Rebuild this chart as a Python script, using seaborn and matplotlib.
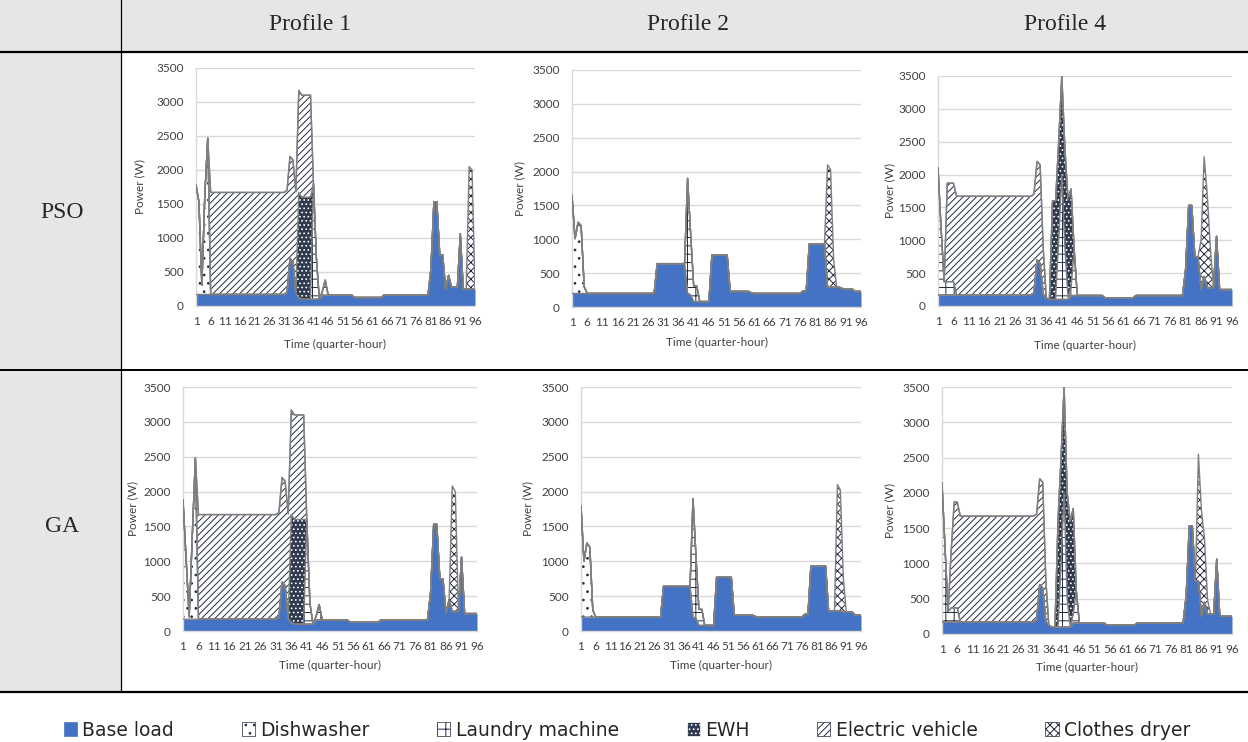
import numpy as np
import matplotlib
matplotlib.use("Agg")
import matplotlib.pyplot as plt
from matplotlib.patches import Patch, Rectangle
import seaborn as sns

# quarter-hours of the day
T = np.arange(1, 97)
x_ticks = list(range(1, 97, 5))
y_ticks = list(range(0, 3501, 500))

# base load per profile (W)
base_p1 = ([170] * 31 + [200, 700, 650, 180, 120] + [100] * 7 + [160] * 11
           + [125] * 10 + [160] * 16
           + [550, 1530, 1530, 750, 750, 250, 450, 280, 280, 280, 1060] + [250] * 5)
base_p2 = ([200] * 28 + [640] * 10 + [200, 180] + [80] * 6 + [770] * 6 + [230] * 7
           + [210] + [200] * 16 + [240] * 2 + [930] * 6 + [290] * 5 + [270] * 4 + [230] * 3)
base_p4 = base_p1

# shiftable loads: (first quarter-hour, values)
pso_p1 = {
    "Dishwasher": [(1, [1610, 1360, 135, 1460, 2300])],
    "Laundry machine": [(41, [1700, 600, 0, 50, 220])],
    "EWH": [(36, [1550, 1500, 1500, 1500, 1500])],
    "Electric vehicle": [(6, [1500] * 35)],
    "Clothes dryer": [(94, [1800, 1750])],
}
pso_p2 = {
    "Dishwasher": [(1, [1450, 810, 1050, 1000, 100])],
    "Laundry machine": [(39, [1700, 900, 230, 230])],
    "Clothes dryer": [(85, [1810, 1740, 420])],
}
pso_p4 = {
    "Laundry machine": [(1, [1930, 1010, 200, 200, 200, 200]),
                        (40, [900, 1900, 800, 30, 120, 700])],
    "EWH": [(38, [1500] * 7)],
    "Electric vehicle": [(4, [1500] * 31 + [700])],
    "Clothes dryer": [(86, [750, 1820, 1420, 620])],
}
ga_p1 = {
    "Dishwasher": [(1, [1710, 870, 35, 1190, 2310])],
    "Laundry machine": [(41, [1500, 300, 0, 50, 220])],
    "EWH": [(36, [1550, 1500, 1500, 1500, 1500])],
    "Electric vehicle": [(6, [1500] * 35)],
    "Clothes dryer": [(88, [1800, 1720])],
}
ga_p2 = {
    "Dishwasher": [(1, [1590, 800, 1060, 1000, 100])],
    "Laundry machine": [(39, [1700, 900, 230, 230])],
    "Clothes dryer": [(88, [1810, 1730, 500])],
}
ga_p4 = {
    "Laundry machine": [(1, [1970, 1050, 150, 200, 200, 200]),
                        (40, [900, 1900, 400, 0, 120, 450])],
    "EWH": [(39, [1500] * 6)],
    "Electric vehicle": [(4, [800] + [1500] * 30 + [600])],
    "Clothes dryer": [(85, [1800, 1500, 900, 200])],
}

names = ["Base load", "Dishwasher", "Laundry machine", "EWH", "Electric vehicle", "Clothes dryer"]
ink = "#1F2A40"
styles = {
    "Base load": dict(facecolor="#4472C4", hatch=None, edgecolor="#4472C4"),
    "Dishwasher": dict(facecolor="white", hatch="..", edgecolor=ink),
    "Laundry machine": dict(facecolor="white", hatch="++", edgecolor=ink),
    "EWH": dict(facecolor="#2F3A4E", hatch="....", edgecolor="white"),
    "Electric vehicle": dict(facecolor="white", hatch="/////", edgecolor=ink),
    "Clothes dryer": dict(facecolor="white", hatch="xxxx", edgecolor=ink),
}


def expand(segments):
    out = np.zeros(96)
    for start, vals in segments:
        out[start - 1:start - 1 + len(vals)] = vals
    return out


sns.set_style("white")
plt.rcParams["hatch.linewidth"] = 0.7
plt.rcParams["font.family"] = ["Lato", "DejaVu Sans"]

fig = plt.figure(figsize=(12.48, 7.42), dpi=100)

# table background
bg = fig.add_axes([0, 0, 1, 1], zorder=-5)
bg.set_xlim(0, 1248)
bg.set_ylim(742, 0)
bg.axis("off")
bg.add_patch(Rectangle((0, 0), 1248, 52, color="#E7E6E6", lw=0))
bg.add_patch(Rectangle((0, 52), 121, 640, color="#E7E6E6", lw=0))
bg.plot([0, 1248], [52, 52], color="black", lw=1.6)
bg.plot([0, 1248], [370, 370], color="black", lw=1.4)
bg.plot([0, 1248], [692, 692], color="black", lw=1.6)
bg.plot([121, 121], [0, 692], color="black", lw=0.9)
serif = ["Liberation Serif", "DejaVu Serif"]
for xc, txt in [(310, "Profile 1"), (688, "Profile 2"), (1065, "Profile 4")]:
    bg.text(xc, 25, txt, ha="center", va="center", fontsize=17, family=serif)
bg.text(62, 212, "PSO", ha="center", va="center", fontsize=17, family=serif)
bg.text(62, 527, "GA", ha="center", va="center", fontsize=17, family=serif)

# panels: data, base, (left, top, right, bottom) px, ylabel x px, xlabel y px
panels = [
    (pso_p1, base_p1, (196, 68, 475, 306), 140, 344),
    (pso_p2, base_p2, (572, 70, 861, 307), 520, 342),
    (pso_p4, base_p4, (938, 76, 1232, 306), 890, 345),
    (ga_p1, base_p1, (183, 387, 477, 631), 133, 665),
    (ga_p2, base_p2, (581, 387, 861, 631), 528, 665),
    (ga_p4, base_p4, (942, 387, 1232, 634), 890, 667),
]

for loads, base, (l, t, r, b), ylx, xly in panels:
    ax = fig.add_axes([l / 1248, 1 - b / 742, (r - l) / 1248, (b - t) / 742])
    series = [np.array(base, dtype=float)] + [expand(loads.get(n, [])) for n in names[1:]]
    cum = np.zeros(96)
    tops = []
    for n, vals in zip(names, series):
        top = cum + vals
        st = styles[n]
        ax.fill_between(T, cum, top, facecolor=st["facecolor"], hatch=st["hatch"],
                        edgecolor=st["edgecolor"], linewidth=0, zorder=2)
        tops.append(top)
        cum = top
    for top in tops:
        sns.lineplot(x=T, y=top, ax=ax, color="#7F7F7F", linewidth=1.0, zorder=3)

    ax.set_xlim(1, 96)
    ax.set_ylim(0, 3500)
    ax.set_xticks(x_ticks)
    ax.set_yticks(y_ticks)
    ax.grid(axis="y", color="#D9D9D9", linewidth=1.0)
    ax.grid(axis="x", visible=False)
    ax.set_axisbelow(True)
    for side in ["top", "right"]:
        ax.spines[side].set_visible(False)
    for side in ["left", "bottom"]:
        ax.spines[side].set_color("#D9D9D9")
        ax.spines[side].set_linewidth(1.0)
    ax.tick_params(axis="both", length=0, labelsize=8.5, labelcolor="#404040")
    ax.tick_params(axis="y", pad=9)
    ax.tick_params(axis="x", pad=7)
    ax.set_ylabel("Power (W)", fontsize=8.5, color="#404040")
    ax.set_xlabel("Time (quarter-hour)", fontsize=8.5, color="#404040")
    ax.yaxis.set_label_coords((ylx - l) / (r - l), 0.5)
    ax.yaxis.label.set_va("center")
    ax.xaxis.set_label_coords(0.5, (b - xly) / (b - t))
    ax.xaxis.label.set_va("center")

handles = [Patch(facecolor=styles[n]["facecolor"], hatch=styles[n]["hatch"],
                 edgecolor=styles[n]["edgecolor"], linewidth=0.5, label=n) for n in names]
fig.legend(handles=handles, loc="center", bbox_to_anchor=(627 / 1248, 1 - 730 / 742),
           ncol=6, frameon=False, prop={"family": "DejaVu Sans", "size": 13.5},
           handlelength=0.7, handleheight=0.7, handletextpad=0.3, columnspacing=3.6)

fig.savefig("out.png", dpi=100)
